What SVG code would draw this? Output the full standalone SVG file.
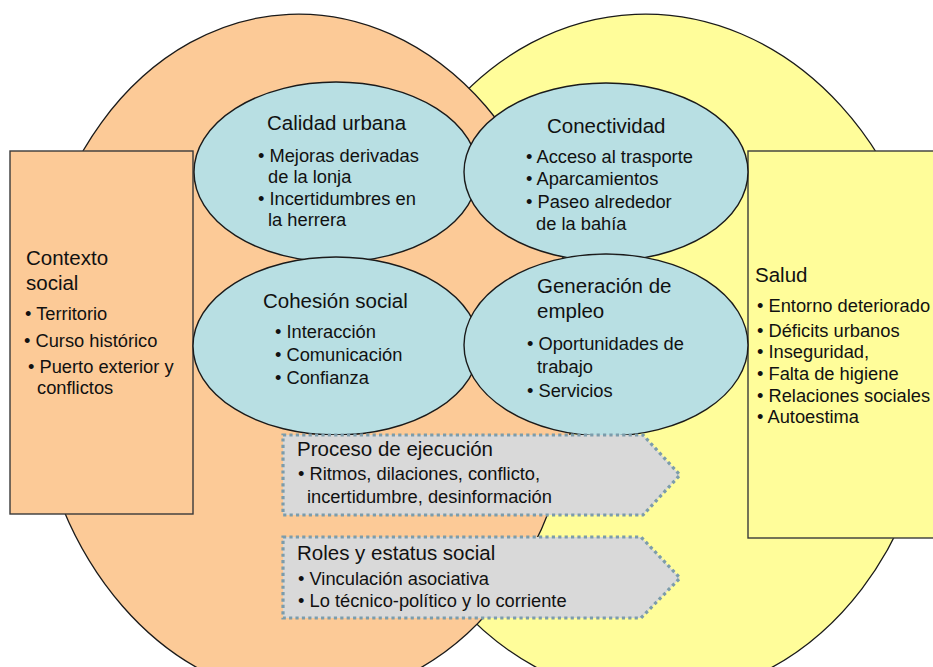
<svg xmlns="http://www.w3.org/2000/svg" width="933" height="667" viewBox="0 0 933 667">
<style>
.big{stroke:#1a1a1a;stroke-width:1.3}
.org{fill:#FCCA97}
.yel{fill:#FFFD9A}
.blue{fill:#B8DFE3;stroke:#1a1a1a;stroke-width:1.4}
.box{stroke:#3a3a3a;stroke-width:1.4}
.arrow{fill:#D9D9D9;stroke:#7C9CAB;stroke-width:3.2;stroke-dasharray:3.2 3.2}
text{font-family:"Liberation Sans",Arial,Helvetica,sans-serif;fill:#111}
.t{font-size:20.5px}
.b{font-size:18.3px}
</style>
<rect width="933" height="667" fill="#ffffff"/>
<g id="ellipse-salud-area">
<ellipse class="big yel" cx="650" cy="356" rx="285" ry="342" transform="rotate(-2.5 650 356)"/>
</g>
<g id="ellipse-social-area">
<ellipse class="big org" cx="304" cy="356" rx="272" ry="342" transform="rotate(-2.5 304 356)"/>
</g>
<g id="contexto-social">
<rect class="box org" x="10" y="151" width="183" height="363"/>
<text class="t" x="26" y="265">Contexto</text>
<text class="t" x="26" y="290">social</text>
<text class="b" x="25" y="320">• Territorio</text>
<text class="b" x="24" y="347">• Curso histórico</text>
<text class="b" x="28" y="373">• Puerto exterior y</text>
<text class="b" x="37" y="394">conflictos</text>
</g>
<g id="salud">
<rect class="box yel" x="748" y="151" width="200" height="387"/>
<text class="t" x="755" y="282">Salud</text>
<text class="b" x="757" y="312">• Entorno deteriorado</text>
<text class="b" x="757" y="337">• Déficits urbanos</text>
<text class="b" x="757" y="358">• Inseguridad,</text>
<text class="b" x="757" y="380">• Falta de higiene</text>
<text class="b" x="757" y="402">• Relaciones sociales</text>
<text class="b" x="757" y="423">• Autoestima</text>
</g>
<g id="calidad-urbana">
<ellipse class="blue" cx="336" cy="172" rx="142" ry="90"/>
<text class="t" x="267" y="130">Calidad urbana</text>
<text class="b" x="258" y="162">• Mejoras derivadas</text>
<text class="b" x="268" y="183">de la lonja</text>
<text class="b" x="258" y="205">• Incertidumbres en</text>
<text class="b" x="268" y="226">la herrera</text>
</g>
<g id="cohesion-social">
<ellipse class="blue" cx="336" cy="346" rx="143" ry="89"/>
<text class="t" x="263" y="308">Cohesión social</text>
<text class="b" x="275" y="338">• Interacción</text>
<text class="b" x="275" y="361">• Comunicación</text>
<text class="b" x="275" y="384">• Confianza</text>
</g>
<g id="conectividad">
<ellipse class="blue" cx="606" cy="172" rx="142" ry="89"/>
<text class="t" x="547" y="133">Conectividad</text>
<text class="b" x="526" y="163">• Acceso al trasporte</text>
<text class="b" x="526" y="185">• Aparcamientos</text>
<text class="b" x="526" y="208">• Paseo alrededor</text>
<text class="b" x="536" y="230">de la bahía</text>
</g>
<g id="generacion-empleo">
<ellipse class="blue" cx="606" cy="345" rx="142" ry="91"/>
<text class="t" x="537" y="293">Generación de</text>
<text class="t" x="537" y="318">empleo</text>
<text class="b" x="527" y="350">• Oportunidades de</text>
<text class="b" x="537" y="373">trabajo</text>
<text class="b" x="527" y="397">• Servicios</text>
</g>
<g id="proceso-ejecucion">
<polygon class="arrow" points="283,435 643,435 680,475 643,515 283,515"/>
<text class="t" x="297" y="456">Proceso de ejecución</text>
<text class="b" x="298" y="480">• Ritmos, dilaciones, conflicto,</text>
<text class="b" x="307" y="503">incertidumbre, desinformación</text>
</g>
<g id="roles-estatus">
<polygon class="arrow" points="283,537 641,537 680,578 641,618 283,618"/>
<text class="t" x="297" y="560">Roles y estatus social</text>
<text class="b" x="298" y="585">• Vinculación asociativa</text>
<text class="b" x="298" y="607">• Lo técnico-político y lo corriente</text>
</g>
<g id="connectors"></g>
</svg>
